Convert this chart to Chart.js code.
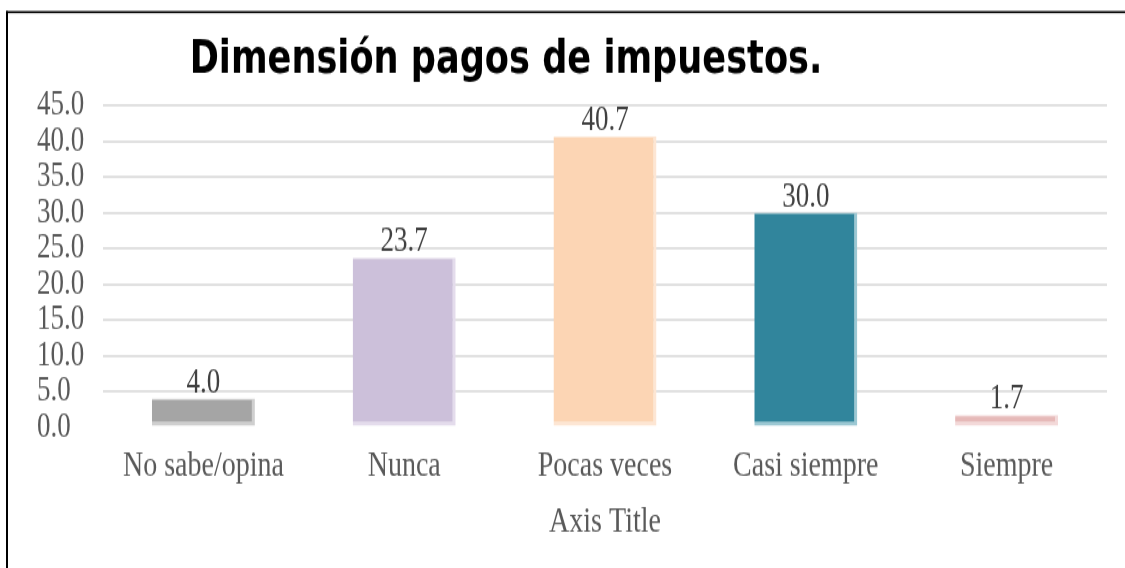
<!DOCTYPE html>
<html>
<head>
<meta charset="utf-8">
<script src="https://cdn.jsdelivr.net/npm/chart.js@4.4.1/dist/chart.umd.min.js"></script>
<style>
  html, body { margin: 0; padding: 0; background: #fff; overflow: hidden; width: 1125px; height: 568px; }
  #wrap { position: absolute; left: 0; top: 0; width: 1125px; height: 437px; overflow: hidden; transform: scale(1, 1.3); transform-origin: 0 0; }
</style>
</head>
<body>
<div id="wrap"><canvas id="myChart" width="1125" height="437"></canvas></div>
<script>
const titleText = 'Dimensión pagos de impuestos.';
const categories = ['No sabe/opina', 'Nunca', 'Pocas veces', 'Casi siempre', 'Siempre'];
const values = [4.0, 23.7, 40.7, 30.0, 1.7];
const yMax = 45;
const yStep = 5;
const barColors = ['#A5A5A5', '#CCC0DA', '#FCD5B4', '#31859C', '#E6B9B8'];
const edgeColors = ['#CFCFCF', '#E4DCEC', '#FDE6D4', '#9CC8D3', '#F3D9D9'];

const ctx = document.getElementById('myChart');

// value labels above each bar
const barLabels = {
    id: 'barLabels',
    afterDatasetsDraw(chart) {
        const c = chart.ctx;
        const meta = chart.getDatasetMeta(0);
        c.save();
        c.font = '27px "Liberation Serif"';
        c.fillStyle = '#404040';
        c.textAlign = 'center';
        c.textBaseline = 'alphabetic';
        meta.data.forEach((bar, i) => {
            c.fillText(values[i].toFixed(1), bar.x, bar.y - 5);
        });
        c.restore();
    }
};

// title sits left of centre in the original, so draw it ourselves,
// plus the cropped frame (only top and left edges show)
const chartTitle = {
    id: 'chartTitle',
    afterDraw(chart) {
        const c = chart.ctx;
        c.save();
        c.fillStyle = '#000';
        c.fillRect(6, 8.5, chart.width - 6, 1.6);
        c.fillRect(6, 8.5, 2, chart.height - 8.5);
        c.font = 'bold 35px "DejaVu Sans"';
        const w = c.measureText(titleText).width;
        const size = 35 * 633 / w;
        c.font = 'bold ' + size + 'px "DejaVu Sans"';
        c.textAlign = 'center';
        c.textBaseline = 'alphabetic';
        c.fillText(titleText, 506, 55.5);
        c.restore();
    }
};

new Chart(ctx, {
    type: 'bar',
    data: {
        labels: categories,
        datasets: [{
            data: values,
            backgroundColor: barColors,
            borderColor: edgeColors,
            borderWidth: { top: 1, right: 3, bottom: 3, left: 0 },
            borderSkipped: false,
            barPercentage: 0.513,
            categoryPercentage: 1
        }]
    },
    options: {
        responsive: false,
        devicePixelRatio: 1,
        animation: false,
        layout: { padding: { left: 37, right: 18, top: 81, bottom: 18.5 } },
        plugins: {
            legend: { display: false },
            title: { display: false },
            tooltip: { enabled: false }
        },
        scales: {
            x: {
                grid: { display: false },
                border: { display: false },
                ticks: {
                    color: '#595959',
                    font: { family: 'Liberation Serif', size: 28 },
                    padding: 5,
                    maxRotation: 0,
                    autoSkip: false
                },
                title: {
                    display: true,
                    text: 'Axis Title',
                    color: '#595959',
                    font: { family: 'Liberation Serif', size: 28 },
                    padding: { top: 0, bottom: 0 }
                },
                afterFit(scale) { scale.height = 90; }
            },
            y: {
                min: 0,
                max: yMax,
                ticks: {
                    stepSize: yStep,
                    autoSkip: false,
                    callback: v => v.toFixed(1),
                    color: '#595959',
                    font: { family: 'Liberation Serif', size: 27 },
                    crossAlign: 'far'
                },
                grid: {
                    color: c => c.tick.value === 0 ? 'rgba(0,0,0,0)' : '#E1E1E1',
                    lineWidth: 2,
                    drawTicks: false
                },
                border: { display: false },
                afterFit(scale) { scale.width = 66; }
            }
        }
    },
    plugins: [barLabels, chartTitle]
});
</script>
</body>
</html>
